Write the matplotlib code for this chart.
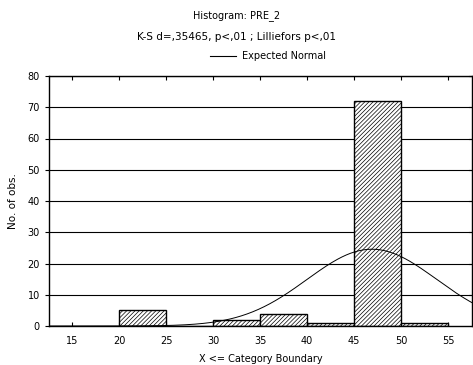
import numpy as np
import matplotlib.pyplot as plt

# Histogram data (category upper boundaries and counts)
edges = [20, 25, 30, 35, 40, 45, 50, 55]
counts = [5, 0, 2, 4, 1, 72, 1]
xticks = [15, 20, 25, 30, 35, 40, 45, 50, 55]
yticks = [0, 10, 20, 30, 40, 50, 60, 70, 80]

# Expected normal parameters
n_obs = sum(counts)
mu = 46.9
sd = 6.9

fig = plt.figure(figsize=(4.73, 3.65), dpi=100)
ax = fig.add_axes([49 / 473, 1 - 326 / 365, 423 / 473, 250 / 365])

ax.set_xlim(12.55, 57.55)
ax.set_ylim(0, 80)

for y in yticks[1:]:
    ax.axhline(y, color='black', linewidth=0.8, zorder=1)

plt.rcParams['hatch.linewidth'] = 0.5
ax.bar(edges[:-1], counts, width=5, align='edge', color='white',
       edgecolor='black', hatch='////////', linewidth=1.0, zorder=2)

xs = np.linspace(12.55, 57.55, 300)
ys = n_obs * 5 * np.exp(-0.5 * ((xs - mu) / sd) ** 2) / (sd * np.sqrt(2 * np.pi))
ax.plot(xs, ys, color='black', linewidth=0.7, zorder=3)

ax.set_xticks(xticks)
ax.set_yticks(yticks)
ax.tick_params(axis='x', direction='in', top=True, labelsize=7, length=3, pad=7)
ax.tick_params(axis='y', direction='out', right=False, labelsize=7, length=3)
for y in yticks[1:]:
    ax.plot([57.55 - 0.3, 57.55], [y, y], color='black', linewidth=0.8, clip_on=False)
for s in ax.spines.values():
    s.set_linewidth(1.0)

ax.set_xlabel('X <= Category Boundary', fontsize=7, labelpad=6)
ax.set_ylabel('No. of obs.', fontsize=7.5)
ax.yaxis.set_label_coords(-31 / 423, 0.5)

fig.text(0.5, 1 - 16 / 365, 'Histogram: PRE_2', ha='center', va='center', fontsize=7)
fig.text(0.5, 1 - 37 / 365, 'K-S d=,35465, p<,01 ; Lilliefors p<,01',
         ha='center', va='center', fontsize=7.5)
fig.lines.append(plt.Line2D([210 / 473, 236 / 473], [1 - 56 / 365, 1 - 56 / 365],
                            color='black', linewidth=0.8, transform=fig.transFigure))
fig.text(242 / 473, 1 - 56 / 365, 'Expected Normal', ha='left', va='center', fontsize=7)

fig.savefig('out.png', dpi=100)
